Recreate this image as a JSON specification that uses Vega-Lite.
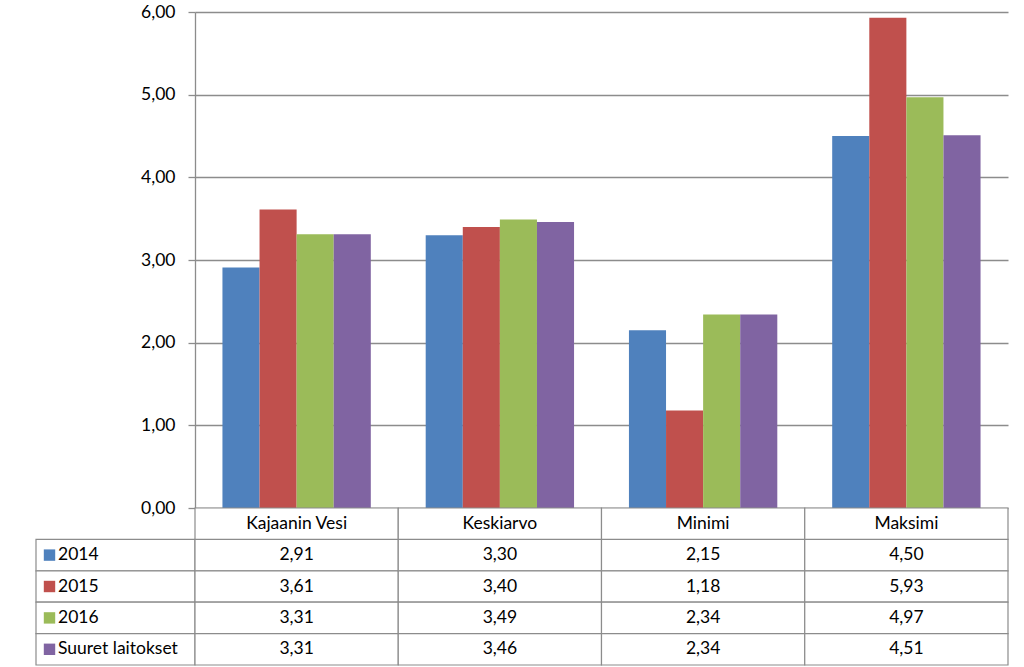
{
  "$schema": "https://vega.github.io/schema/vega-lite/v6.json",
  "padding": {"left": 35, "top": 3, "right": 0, "bottom": 0},
  "autosize": {"type": "pad"},
  "background": "white",
  "config": {
    "locale": {"number": {"decimal": ",", "thousands": " ", "grouping": [3], "currency": ["", " €"]}},
    "font": "Lato",
    "view": {"stroke": null},
    "text": {"font": "Lato", "fontSize": 17.5, "color": "#000000"}
  },
  "datasets": {
    "d": [
      {"cat": "Kajaanin Vesi", "series": "2014", "value": 2.91},
      {"cat": "Kajaanin Vesi", "series": "2015", "value": 3.61},
      {"cat": "Kajaanin Vesi", "series": "2016", "value": 3.31},
      {"cat": "Kajaanin Vesi", "series": "Suuret laitokset", "value": 3.31},
      {"cat": "Keskiarvo", "series": "2014", "value": 3.30},
      {"cat": "Keskiarvo", "series": "2015", "value": 3.40},
      {"cat": "Keskiarvo", "series": "2016", "value": 3.49},
      {"cat": "Keskiarvo", "series": "Suuret laitokset", "value": 3.46},
      {"cat": "Minimi", "series": "2014", "value": 2.15},
      {"cat": "Minimi", "series": "2015", "value": 1.18},
      {"cat": "Minimi", "series": "2016", "value": 2.34},
      {"cat": "Minimi", "series": "Suuret laitokset", "value": 2.34},
      {"cat": "Maksimi", "series": "2014", "value": 4.50},
      {"cat": "Maksimi", "series": "2015", "value": 5.93},
      {"cat": "Maksimi", "series": "2016", "value": 4.97},
      {"cat": "Maksimi", "series": "Suuret laitokset", "value": 4.51}
    ]
  },
  "columns": 2,
  "spacing": 0,
  "bounds": "flush",
  "concat": [
    {
      "width": 159,
      "height": 496,
      "data": {"values": [{}]},
      "mark": {"type": "text"},
      "encoding": {"text": {"value": ""}}
    },
    {
      "width": 813,
      "height": 496,
      "data": {"name": "d"},
      "mark": {"type": "bar"},
      "encoding": {
        "x": {"field": "cat", "type": "nominal", "sort": ["Kajaanin Vesi", "Keskiarvo", "Minimi", "Maksimi"], "scale": {"paddingInner": 0, "paddingOuter": 0}, "axis": null},
        "xOffset": {"field": "series", "type": "nominal", "sort": ["2014", "2015", "2016", "Suuret laitokset"], "scale": {"paddingInner": 0, "paddingOuter": 0.74}},
        "y": {
          "field": "value", "type": "quantitative",
          "scale": {"domain": [0, 6], "nice": false},
          "axis": {
            "values": [0, 1, 2, 3, 4, 5, 6], "format": ".2f", "title": null, "grid": true,
            "gridColor": "#8c8c8c", "gridWidth": 1.3, "domainColor": "#8c8c8c", "domainWidth": 1.3,
            "tickColor": "#8c8c8c", "tickSize": 7, "tickWidth": 1.3, "labelPadding": 13,
            "labelFontSize": 17.5, "labelFont": "Lato", "labelColor": "#000000"
          }
        },
        "color": {
          "field": "series", "type": "nominal",
          "scale": {"domain": ["2014", "2015", "2016", "Suuret laitokset"], "range": ["#4F81BD", "#C0504D", "#9BBB59", "#8064A2"]},
          "legend": null
        }
      }
    },
    {
      "width": 159,
      "height": 157,
      "data": {"name": "d"},
      "transform": [{"filter": "datum.cat === 'Kajaanin Vesi'"}],
      "encoding": {
        "y": {"field": "series", "type": "nominal", "scale": {"domain": ["header", "2014", "2015", "2016", "Suuret laitokset"], "paddingInner": 0, "paddingOuter": 0}, "axis": null}
      },
      "layer": [
        {"mark": {"type": "rect", "fill": "white", "stroke": "#8c8c8c", "strokeWidth": 1.2}},
        {
          "mark": {"type": "point", "shape": "square", "filled": true, "size": 130, "opacity": 1, "xOffset": -66},
          "encoding": {
            "color": {
              "field": "series", "type": "nominal",
              "scale": {"domain": ["2014", "2015", "2016", "Suuret laitokset"], "range": ["#4F81BD", "#C0504D", "#9BBB59", "#8064A2"]},
              "legend": null
            }
          }
        },
        {"mark": {"type": "text", "align": "left", "dx": -57.5}, "encoding": {"text": {"field": "series"}}}
      ]
    },
    {
      "width": 813,
      "height": 157,
      "data": {"name": "d"},
      "encoding": {
        "x": {"field": "cat", "type": "nominal", "sort": ["Kajaanin Vesi", "Keskiarvo", "Minimi", "Maksimi"], "scale": {"paddingInner": 0, "paddingOuter": 0}, "axis": null}
      },
      "layer": [
        {
          "mark": {"type": "rect", "fill": "white", "stroke": "#8c8c8c", "strokeWidth": 1.2},
          "encoding": {"y": {"field": "series", "type": "nominal", "scale": {"domain": ["header", "2014", "2015", "2016", "Suuret laitokset"], "paddingInner": 0, "paddingOuter": 0}, "axis": null}}
        },
        {
          "transform": [{"filter": "datum.series === '2014'"}],
          "mark": {"type": "rect", "fill": "white", "stroke": "#8c8c8c", "strokeWidth": 1.2},
          "encoding": {"y": {"datum": "header", "type": "nominal", "scale": {"domain": ["header", "2014", "2015", "2016", "Suuret laitokset"], "paddingInner": 0, "paddingOuter": 0}, "axis": null}}
        },
        {
          "transform": [{"filter": "datum.series === '2014'"}],
          "mark": {"type": "text"},
          "encoding": {
            "y": {"datum": "header", "type": "nominal", "scale": {"domain": ["header", "2014", "2015", "2016", "Suuret laitokset"], "paddingInner": 0, "paddingOuter": 0}, "axis": null},
            "text": {"field": "cat"}
          }
        },
        {
          "mark": {"type": "text"},
          "encoding": {
            "y": {"field": "series", "type": "nominal", "scale": {"domain": ["header", "2014", "2015", "2016", "Suuret laitokset"], "paddingInner": 0, "paddingOuter": 0}, "axis": null},
            "text": {"field": "value", "type": "quantitative", "format": ".2f"}
          }
        }
      ]
    }
  ]
}
